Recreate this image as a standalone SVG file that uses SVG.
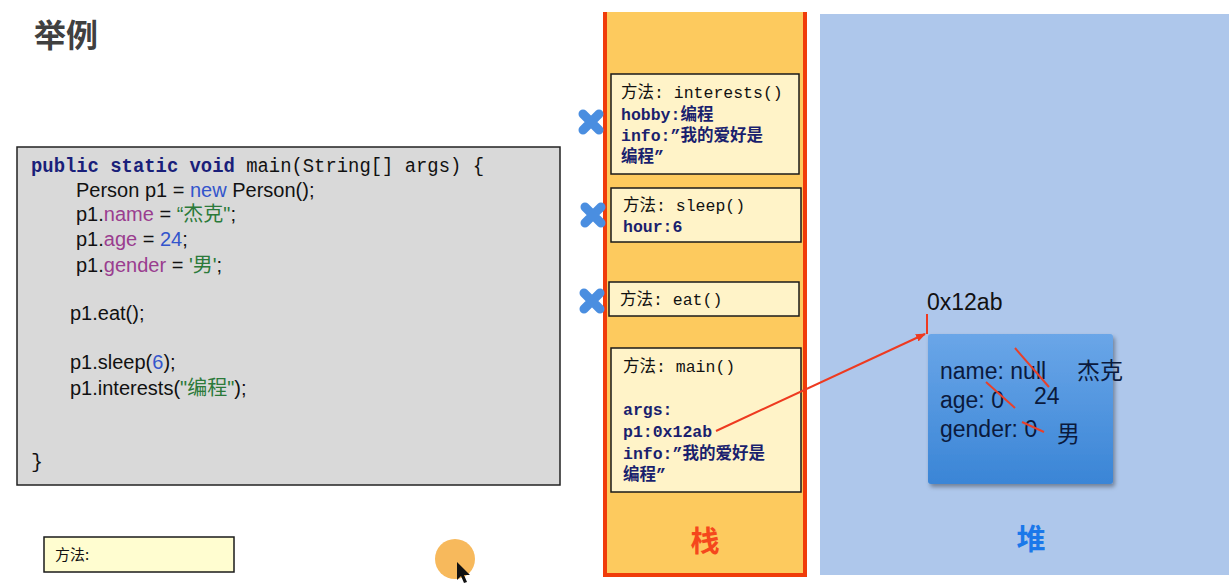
<svg xmlns="http://www.w3.org/2000/svg" width="1231" height="583" viewBox="0 0 1231 583">
<defs>
<style>
.code{font-family:"Liberation Sans","Noto Sans CJK SC",sans-serif;font-size:20px;fill:#111}
.mono{font-family:"Liberation Mono","Noto Sans CJK SC",monospace}
.kw{font-weight:bold;fill:#1a1f7a}
.prop{fill:#9a3d8f}
.num{fill:#3355cc}
.str{fill:#2b7a3a}
.frame{fill:#fff3c8;stroke:#1a1a1a;stroke-width:1.5}
.ftitle{font-family:"Liberation Mono","Noto Sans CJK SC",monospace;font-size:16.5px;fill:#111}
.fvar{font-family:"Liberation Mono","Noto Sans CJK SC",monospace;font-size:16.5px;font-weight:bold;fill:#1a1f6e}
.heap{font-family:"Liberation Sans","Noto Sans CJK SC",sans-serif;font-size:23px;fill:#0b1a3d}
.strike{stroke:#e8402a;stroke-width:2}
.xmark{stroke:#4a8ee0;stroke-width:9;stroke-linecap:round}
</style>
<linearGradient id="objg" x1="0" y1="0" x2="0" y2="1">
<stop offset="0" stop-color="#6aa6e8"/>
<stop offset="1" stop-color="#3a85d6"/>
</linearGradient>
<filter id="sh" x="-10%" y="-10%" width="125%" height="125%">
<feDropShadow dx="2" dy="3" stdDeviation="2" flood-color="#000" flood-opacity="0.35"/>
</filter>
<marker id="arr" markerWidth="10" markerHeight="10" refX="9" refY="5" orient="auto" markerUnits="userSpaceOnUse">
<path d="M0,1 L10,5 L0,9 z" fill="#ee3a20"/>
</marker>
</defs>
<rect x="0" y="0" width="1231" height="583" fill="#ffffff"/>

<g id="title">
<text x="34" y="47" font-family="'Noto Sans CJK SC',sans-serif" font-size="32" font-weight="bold" fill="#404040">举例</text>
</g>

<g id="code">
<rect x="17" y="147" width="543" height="338" fill="#d9d9d9" stroke="#222" stroke-width="1.5"/>
<text x="31" y="172" class="code mono" font-size="18" textLength="453" lengthAdjust="spacingAndGlyphs"><tspan class="kw">public static void</tspan> main(String[] args) {</text>
<text x="76" y="197" class="code">Person p1 = <tspan class="num">new</tspan> Person();</text>
<text x="76" y="221" class="code">p1.<tspan class="prop">name</tspan> = <tspan class="str">“杰克"</tspan>;</text>
<text x="76" y="246" class="code">p1.<tspan class="prop">age</tspan> = <tspan class="num">24</tspan>;</text>
<text x="76" y="272" class="code">p1.<tspan class="prop">gender</tspan> = <tspan class="str">'男'</tspan>;</text>
<text x="70" y="320" class="code">p1.eat();</text>
<text x="70" y="369" class="code">p1.sleep(<tspan class="num">6</tspan>);</text>
<text x="70" y="395" class="code">p1.interests(<tspan class="str">"编程"</tspan>);</text>
<text x="31" y="468" class="code mono">}</text>
</g>

<g id="method-box">
<rect x="44" y="537" width="190" height="35" fill="#fffdd0" stroke="#1a1a1a" stroke-width="1.5"/>
<text x="55" y="560" font-family="'Noto Sans CJK SC',sans-serif" font-size="15" fill="#111">方法:</text>
</g>

<g id="cursor">
<circle cx="455" cy="559" r="20" fill="#f7b95c"/>
<path d="M457,562 L457,580 L461,576 L464,583 L467,582 L464,575 L470,575 Z" fill="#111"/>
</g>

<g id="stack">
<rect x="605" y="12" width="200" height="563" fill="#fdca5e"/>
<path d="M605,12 V575 H805 V12" fill="none" stroke="#f03c0a" stroke-width="4"/>
<text x="705" y="552" text-anchor="middle" font-family="'Noto Sans CJK SC',sans-serif" font-size="29" font-weight="bold" fill="#f5471c">栈</text>
</g>

<g id="frame-interests">
<rect class="frame" x="611" y="74" width="188" height="100"/>
<text x="621" y="98" class="ftitle">方法: interests()</text>
<text x="621" y="120" class="fvar">hobby:编程</text>
<text x="621" y="141" class="fvar">info:”我的爱好是</text>
<text x="621" y="162" class="fvar">编程”</text>
</g>

<g id="frame-sleep">
<rect class="frame" x="611" y="188" width="190" height="54"/>
<text x="623" y="211" class="ftitle">方法: sleep()</text>
<text x="623" y="232" class="fvar">hour:6</text>
</g>

<g id="frame-eat">
<rect class="frame" x="609" y="282" width="190" height="34"/>
<text x="620" y="305" class="ftitle">方法: eat()</text>
</g>

<g id="frame-main">
<rect class="frame" x="611" y="348" width="190" height="144"/>
<text x="623" y="372" class="ftitle">方法: main()</text>
<text x="623" y="415" class="fvar">args:</text>
<text x="623" y="437" class="fvar">p1:0x12ab</text>
<text x="623" y="459" class="fvar">info:”我的爱好是</text>
<text x="623" y="480" class="fvar">编程”</text>
</g>

<g id="xmarks">
<path class="xmark" d="M583,114 L599,130 M599,114 L583,130"/>
<path class="xmark" d="M585,207 L601,223 M601,207 L585,223"/>
<path class="xmark" d="M584,293 L600,309 M600,293 L584,309"/>
</g>

<g id="heap">
<rect x="820" y="14" width="409" height="561" fill="#aec7eb"/>
<text x="1031" y="550" text-anchor="middle" font-family="'Noto Sans CJK SC',sans-serif" font-size="29" font-weight="bold" fill="#1a78ea">堆</text>
</g>

<g id="address">
<text x="927" y="310" font-family="'Liberation Sans',sans-serif" font-size="23" fill="#111">0x12ab</text>
</g>

<g id="object">
<rect x="928" y="334" width="185" height="150" rx="3" fill="url(#objg)" filter="url(#sh)"/>
<text x="940" y="379" class="heap">name: null</text>
<text x="1077" y="379" class="heap">杰克</text>
<text x="940" y="408" class="heap">age: 0</text>
<text x="1034" y="404" class="heap">24</text>
<text x="940" y="437" class="heap">gender: 0</text>
<text x="1057" y="442" class="heap">男</text>
<line class="strike" x1="1015" y1="348" x2="1049" y2="387"/>
<line class="strike" x1="986" y1="382" x2="1015" y2="408"/>
<line class="strike" x1="1022" y1="422" x2="1044" y2="432"/>
</g>

<g id="connectors">
<line x1="716" y1="431" x2="925" y2="334" stroke="#ee3a20" stroke-width="2" marker-end="url(#arr)"/>
<line x1="927" y1="314" x2="927" y2="334" stroke="#ee3a20" stroke-width="2"/>
</g>
</svg>
